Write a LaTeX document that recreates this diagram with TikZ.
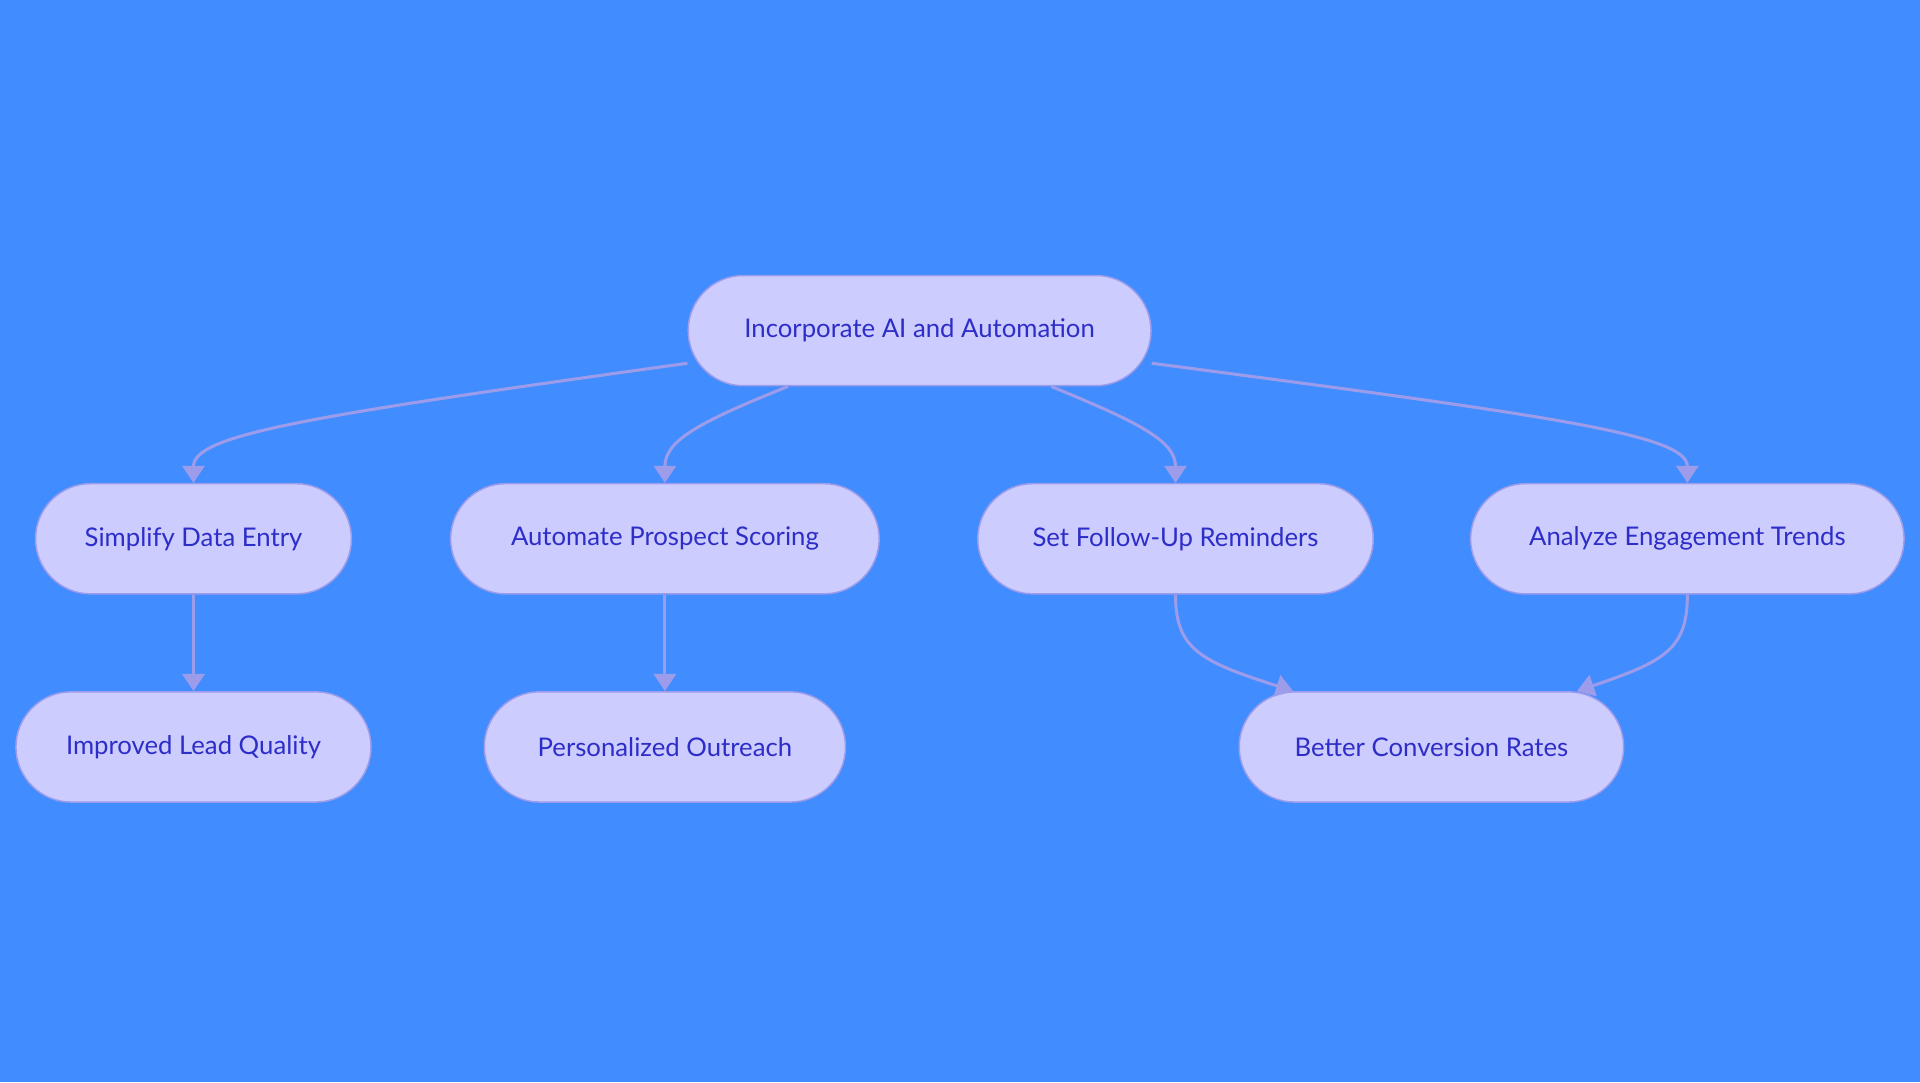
\documentclass[tikz,border=0pt]{standalone}
\usepackage{fontspec}
\setmainfont{Lato}
\usetikzlibrary{arrows.meta}
\definecolor{bg}{HTML}{418CFF}
\definecolor{nfill}{HTML}{CCCCFF}
\definecolor{nline}{HTML}{9C9CEA}
\definecolor{ntext}{HTML}{2D2DC8}
\begin{document}
\begin{tikzpicture}[x=1pt,y=-1pt,
  box/.style={draw=nline,line width=1.2pt,fill=nfill,rounded corners=45pt,minimum height=90pt,text=ntext,font=\fontsize{21}{24}\selectfont,inner sep=0pt},
  conn/.style={draw=nline,line width=2.5pt,-{Triangle[width=18pt,length=14pt]}}]
\fill[bg] (0,0) rectangle (1568,884);
\useasboundingbox (0,0) rectangle (1568,884);
\node[box,minimum width=378pt] (top) at (751,270) {Incorporate AI and Automation};
\node[box,minimum width=258pt] (simp) at (158,440) {Simplify Data Entry};
\node[box,minimum width=350pt] (auto) at (543,440) {Automate Prospect Scoring};
\node[box,minimum width=323pt] (set) at (960,440) {Set Follow-Up Reminders};
\node[box,minimum width=354pt] (ana) at (1378,440) {Analyze Engagement Trends};
\node[box,minimum width=290pt] (imp) at (158,610) {Improved Lead Quality};
\node[box,minimum width=295pt] (pers) at (543,610) {Personalized Outreach};
\node[box,minimum width=314pt] (bet) at (1169,610) {Better Conversion Rates};
\draw[conn] (top.188) .. controls (250,340) and (158,355) .. (simp.north);
\draw[conn] (top.203) .. controls (570,345) and (543,360) .. (auto.north);
\draw[conn] (top.-23) .. controls (930,345) and (960,360) .. (set.north);
\draw[conn] (top.-8) .. controls (1270,340) and (1378,355) .. (ana.north);
\draw[conn] (simp.south) -- (imp.north);
\draw[conn] (auto.south) -- (pers.north);
\draw[conn] (set.south) .. controls (960,530) and (980,540) .. (bet.158);
\draw[conn] (ana.south) .. controls (1378,530) and (1360,540) .. (bet.21);
\end{tikzpicture}
\end{document}
